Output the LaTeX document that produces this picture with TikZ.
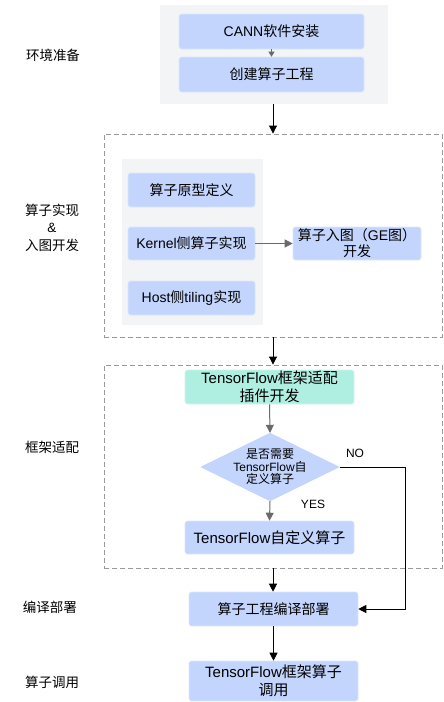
\documentclass[tikz,border=0pt]{standalone}
\usepackage{fontspec}
\setmainfont{Liberation Sans}
\newfontfamily\cjk{Noto Sans CJK SC}
\newcommand{\zh}[1]{{\cjk #1}}
\usetikzlibrary{arrows.meta}
\definecolor{boxblue}{HTML}{C3D5FD}
\definecolor{boxgreen}{HTML}{AEEFE1}
\definecolor{panelgray}{HTML}{F3F4F6}
\definecolor{dashgray}{HTML}{9A9A9A}
\definecolor{arrgray}{HTML}{6A6A6A}
\tikzset{
  bbox/.style={fill=boxblue, draw=boxblue!60!white, line width=0.6pt, rounded corners=2.5pt, inner sep=0pt, align=center, font=\fontsize{14}{17}\selectfont},
  tfbox/.style={bbox, font=\fontsize{15}{18}\selectfont},
  panel/.style={fill=panelgray, draw=none, inner sep=0pt},
  dashbox/.style={draw=dashgray, dash pattern=on 5pt off 3pt, line width=0.9pt, inner sep=0pt},
  lbl/.style={align=center, font=\fontsize{13.5}{17.5}\selectfont},
  blk/.style={draw=black, line width=0.9pt, -{Triangle[length=8pt,width=8pt]}},
  gry/.style={draw=arrgray, line width=1pt, -{Triangle[length=8pt,width=8pt]}},
  gsm/.style={draw=arrgray, line width=0.8pt, -{Triangle[length=5pt,width=6pt]}},
  yn/.style={font=\fontsize{12}{14}\selectfont},
}
\begin{document}
\begin{tikzpicture}[x=1pt,y=-1pt]
\useasboundingbox[fill=white] (0,0) rectangle (444,702);

% stage 1
\node[panel, minimum width=228pt, minimum height=99pt] (panel1) at (274,54.5) {};
\node[bbox, minimum width=185pt, minimum height=35pt] (cann) at (271.5,31.5) {CANN\zh{软件安装}};
\node[bbox, minimum width=185pt, minimum height=35pt] (create) at (271.5,74.5) {\zh{创建算子工程}};
\draw[gsm] (cann.south) -- (create.north);

% stage 2
\node[dashbox, minimum width=338pt, minimum height=203pt] (dash1) at (273,235.5) {};
\node[panel, minimum width=141pt, minimum height=166pt] (panel2) at (192.5,242) {};
\node[bbox, minimum width=127pt, minimum height=34pt] (proto) at (191.5,190) {\zh{算子原型定义}};
\node[bbox, minimum width=127pt, minimum height=33pt] (kernel) at (191.5,243.5) {Kernel\zh{侧算子实现}};
\node[bbox, minimum width=127pt, minimum height=34pt] (host) at (191.5,298) {Host\zh{侧}tiling\zh{实现}};
\node[bbox, minimum width=128pt, minimum height=33pt, font=\fontsize{14}{16}\selectfont] (ge) at (357,243.5) {\zh{算子入图（}GE\zh{图）}\\\zh{开发}};
\draw[gry, line width=0.8pt] (kernel.east) -- (ge.west);

% stage 3
\node[dashbox, minimum width=338pt, minimum height=203pt] (dash2) at (273,466.5) {};
\node[tfbox, fill=boxgreen, draw=boxgreen!60!white, minimum width=169pt, minimum height=34pt] (tfplug) at (269.5,387) {TensorFlow\zh{框架适配}\\\zh{插件开发}};
\node[minimum width=139pt, minimum height=68pt, inner sep=0pt] (dia) at (270,467) {};
\fill[boxblue] (dia.north) -- (dia.east) -- (dia.south) -- (dia.west) -- cycle;
\node[align=center, font=\fontsize{12}{12.5}\selectfont, inner sep=0pt] (diatext) at (dia.center) {\zh{是否需要}\\TensorFlow\zh{自}\\\zh{定义算子}};
\node[tfbox, minimum width=169pt, minimum height=33pt] (tfcustom) at (269.5,537.5) {TensorFlow\zh{自定义算子}};
\draw[gry] (tfplug.south) -- (dia.north);
\draw[gry] (dia.south) -- (tfcustom.north);
\node[yn] (no) at (355,453) {NO};
\node[yn] (yes) at (313,504) {YES};

% stage 4, 5
\node[bbox, minimum width=169pt, minimum height=34pt] (compile) at (273.5,609) {\zh{算子工程编译部署}};
\node[tfbox, minimum width=169pt, minimum height=40pt] (invoke) at (273.5,681) {TensorFlow\zh{框架算子}\\\zh{调用}};

% connectors
\draw[blk] (panel1.south -| dash1.north) -- (dash1.north);
\draw[blk] (dash1.south) -- (dash2.north);
\draw[blk] (dash2.south) -- (dash2.south |- compile.north);
\draw[blk] (compile.south -| invoke.north) -- (invoke.north);
\coordinate (nocorner1) at (405,467);
\coordinate (nocorner2) at (405,609);
\draw[blk] (dia.east) -- (nocorner1) -- (nocorner2) -- (compile.east);

% left labels
\node[lbl] (l1) at (53,55) {\zh{环境准备}};
\node[lbl] (l2) at (52,227.5) {\zh{算子实现}\\\&\\\zh{入图开发}};
\node[lbl] (l3) at (52,447) {\zh{框架适配}};
\node[lbl] (l4) at (50,607) {\zh{编译部署}};
\node[lbl] (l5) at (52,682) {\zh{算子调用}};
\end{tikzpicture}
\end{document}
